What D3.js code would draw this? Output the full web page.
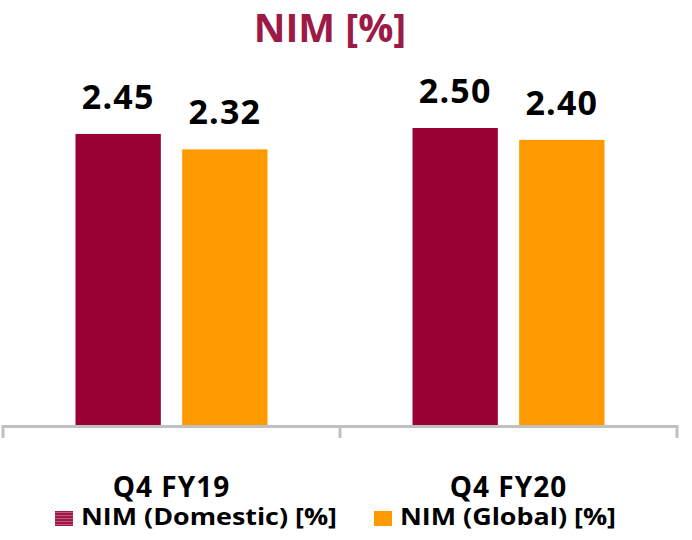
<!DOCTYPE html>
<html>
<head>
<meta charset="utf-8">
<script src="https://cdn.jsdelivr.net/npm/d3@7/dist/d3.min.js"></script>
<style>
  html, body { margin: 0; padding: 0; background: #ffffff; }
  svg { display: block; font-family: "Open Sans", sans-serif; }
</style>
</head>
<body>
<svg id="chart" width="692" height="540"></svg>
<script>
// Quarters on the category axis
const categories = ["Q4 FY19", "Q4 FY20"];
// Series shown side by side in each quarter
const seriesNames = ["NIM (Domestic) [%]", "NIM (Global) [%]"];
const domesticValues = [2.45, 2.50];
const globalValues = [2.32, 2.40];
const valueLabels = [["2.45", "2.32"], ["2.50", "2.40"]];
const seriesColors = ["#990033", "#FF9900"];

const svg = d3.select("#chart");

// Stripe fill for the domestic legend swatch
const defs = svg.append("defs");
const pat = defs.append("pattern")
  .attr("id", "stripes").attr("patternUnits", "userSpaceOnUse")
  .attr("width", 4).attr("height", 3);
pat.append("rect").attr("width", 4).attr("height", 3).attr("fill", "#c2577a");
pat.append("rect").attr("width", 4).attr("height", 2).attr("fill", "#9e1845");

const baseY = 425;
const x0 = d3.scaleBand().domain(categories).range([3, 677]);
const groupW = 192;
const x1 = d3.scaleBand().domain(seriesNames)
  .range([(x0.bandwidth() - groupW) / 2, (x0.bandwidth() + groupW) / 2])
  .paddingInner(0.2);
const y = d3.scaleLinear().domain([0, 2.5]).range([baseY, 128]);

const rows = categories.map((c, i) => ({
  cat: c,
  vals: [domesticValues[i], globalValues[i]],
  labels: valueLabels[i]
}));

// Title
svg.append("text")
  .attr("x", 330).attr("y", 42)
  .attr("text-anchor", "middle")
  .attr("font-size", 39).attr("font-weight", 700)
  .attr("fill", "#9C1A45")
  .text("NIM [%]");

const groups = svg.selectAll("g.grp").data(rows).join("g")
  .attr("class", "grp")
  .attr("transform", d => `translate(${x0(d.cat)},0)`);

groups.selectAll("rect").data(d => d.vals.map((v, j) => ({ v, s: seriesNames[j], j, label: d.labels[j] })))
  .join("rect")
  .attr("x", d => x1(d.s))
  .attr("width", x1.bandwidth())
  .attr("y", d => y(d.v))
  .attr("height", d => baseY - y(d.v))
  .attr("fill", d => seriesColors[d.j]);

groups.selectAll("text.val").data(d => d.vals.map((v, j) => ({ v, s: seriesNames[j], j, label: d.labels[j] })))
  .join("text")
  .attr("class", "val")
  .attr("x", d => x1(d.s) + x1.bandwidth() / 2)
  .attr("y", d => y(d.v) - 25)
  .attr("text-anchor", "middle")
  .attr("font-size", 34).attr("font-weight", 700)
  .attr("letter-spacing", 1.2)
  .attr("fill", "#000")
  .text(d => d.label);

// Category axis with ticks at band boundaries
const axisColor = "#c0c0c0";
const axisG = svg.append("g");
axisG.append("line")
  .attr("x1", x0.range()[0]).attr("x2", x0.range()[1])
  .attr("y1", 426.5).attr("y2", 426.5)
  .attr("stroke", axisColor).attr("stroke-width", 3);
const tickXs = categories.map(c => x0(c)).concat([x0.range()[1]]);
axisG.selectAll("line.tick").data(tickXs).join("line")
  .attr("class", "tick")
  .attr("x1", d => d).attr("x2", d => d)
  .attr("y1", 425).attr("y2", 438)
  .attr("stroke", axisColor).attr("stroke-width", 3);

svg.selectAll("text.cat").data(categories).join("text")
  .attr("class", "cat")
  .attr("x", d => x0(d) + x0.bandwidth() / 2)
  .attr("y", 497)
  .attr("text-anchor", "middle")
  .attr("font-size", 28).attr("font-weight", 700)
  .attr("letter-spacing", 1)
  .attr("fill", "#000")
  .text(d => d);

// Legend
const legendX = [55, 374];
const legendTextW = [256, 216];
const leg = svg.selectAll("g.leg").data(seriesNames).join("g")
  .attr("class", "leg")
  .attr("transform", (d, i) => `translate(${legendX[i]},0)`);
leg.append("rect")
  .attr("x", 0).attr("y", 511).attr("width", 18).attr("height", 15)
  .attr("fill", (d, i) => i === 0 ? "url(#stripes)" : seriesColors[i]);
leg.append("text")
  .attr("x", 26).attr("y", 525)
  .attr("font-size", 24).attr("font-weight", 700)
  .attr("textLength", (d, i) => legendTextW[i])
  .attr("lengthAdjust", "spacingAndGlyphs")
  .attr("fill", "#000")
  .text(d => d);
</script>
</body>
</html>
